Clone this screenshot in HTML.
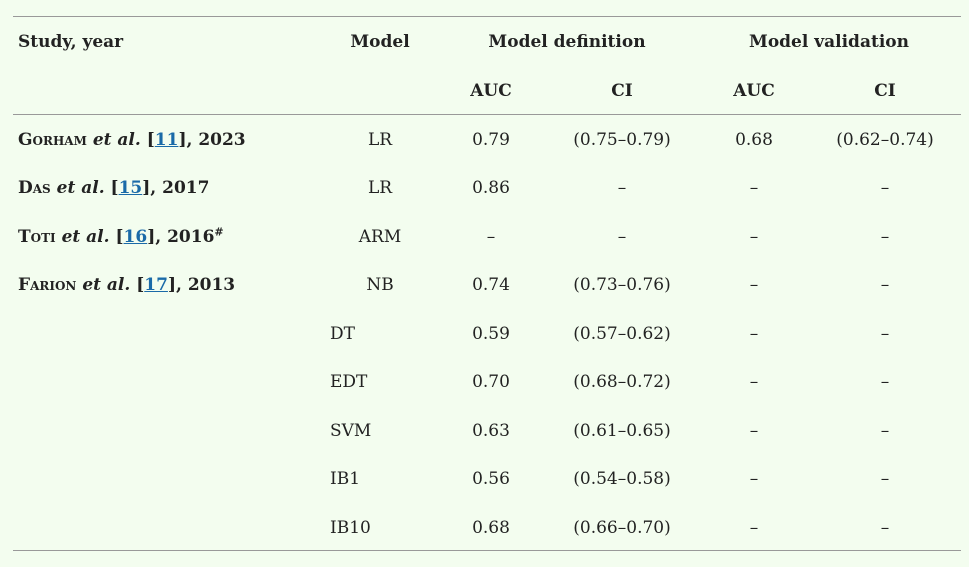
<!DOCTYPE html>
<html><head><meta charset="utf-8"><style>
body{margin:0;width:969px;height:567px;background:#f3fdef;font-family:"DejaVu Serif","Liberation Serif",serif;font-size:17px;color:#222;position:relative;overflow:hidden}
.l{position:absolute;left:13px;width:948px;height:1px;background:#999}
.t{position:absolute;white-space:nowrap;line-height:20px;transform:translateY(-50%)}
.c{transform:translate(-50%,-50%)}
b{font-weight:bold}
.sc{font-variant:small-caps}
a{color:#1a6aa8;text-decoration:underline}
</style></head><body>
<div class="l" style="top:16px"></div>
<div class="l" style="top:114px"></div>
<div class="l" style="top:550px"></div>
<div id="tbl"></div>
<script>
const cols=[{x:18,a:'l'},{x:380,a:'c'},{x:491,a:'c'},{x:622,a:'c'},{x:754,a:'c'},{x:885,a:'c'}];
const rowsY=[140,188,237,285,334,382,431,479,528];
const rows=[
['<b><span class="sc">Gorham</span> <i>et al.</i> [<a href="#">11</a>], 2023</b>','LR','0.79','(0.75–0.79)','0.68','(0.62–0.74)'],
['<b><span class="sc">Das</span> <i>et al.</i> [<a href="#">15</a>], 2017</b>','LR','0.86','–','–','–'],
['<b><span class="sc">Toti</span> <i>et al.</i> [<a href="#">16</a>], 2016<sup style="font-size:11px;line-height:0">#</sup></b>','ARM','–','–','–','–'],
['<b><span class="sc">Farion</span> <i>et al.</i> [<a href="#">17</a>], 2013</b>','NB','0.74','(0.73–0.76)','–','–'],
['','DT','0.59','(0.57–0.62)','–','–'],
['','EDT','0.70','(0.68–0.72)','–','–'],
['','SVM','0.63','(0.61–0.65)','–','–'],
['','IB1','0.56','(0.54–0.58)','–','–'],
['','IB10','0.68','(0.66–0.70)','–','–']];
const tbl=document.getElementById('tbl');
function add(html,x,y,center,name){
const d=document.createElement('div');
d.className='t'+(center?' c':'');
d.style.left=x+'px';d.style.top=y+'px';d.innerHTML=html;


tbl.appendChild(d);}
add('<b>Study, year</b>',18,42,false,'header-study-year');
add('<b>Model</b>',380,42,true,'header-model');
add('<b>Model definition</b>',567,42,true,'header-model-definition');
add('<b>Model validation</b>',829,42,true,'header-model-validation');
add('<b>AUC</b>',491,91,true,'header-auc-definition');
add('<b>CI</b>',622,91,true,'header-ci-definition');
add('<b>AUC</b>',754,91,true,'header-auc-validation');
add('<b>CI</b>',885,91,true,'header-ci-validation');
rows.forEach((r,i)=>{r.forEach((v,j)=>{if(!v)return;
let x=cols[j].x,c=cols[j].a==='c';
if(j===1&&i>=4){x=330;c=false;}
add(v,x,rowsY[i],c,'cell-r'+(i+1)+'-c'+(j+1));});});
</script>
</body></html>
